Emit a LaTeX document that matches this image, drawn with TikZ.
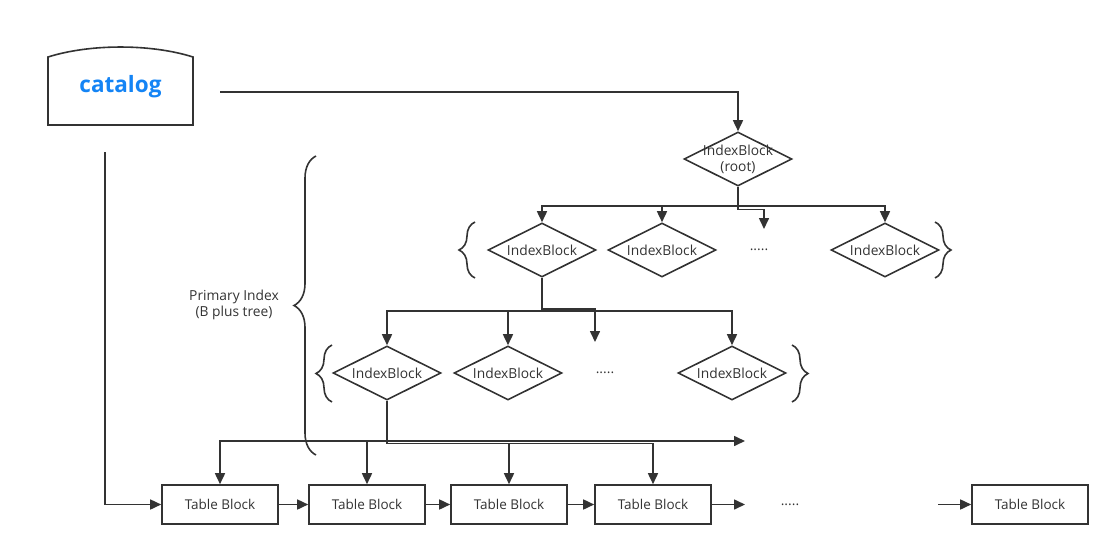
\documentclass[tikz,border=0pt]{standalone}
\usepackage{fontspec}
\setmainfont{Open Sans}
\usetikzlibrary{shapes.geometric,decorations.pathreplacing,arrows.meta}
\definecolor{ln}{RGB}{51,51,51}
\definecolor{cat}{RGB}{20,132,245}
\begin{document}
\begin{tikzpicture}[x=1pt,y=-1pt,
  line/.style={draw=ln, line width=1.6pt},
  arr/.style={line, -{Triangle[length=11pt,width=10pt]}},
  lbl/.style={font=\fontsize{13.8}{16}\selectfont, text=ln, align=center},
  ib/.style={diamond, draw=ln, line width=1.6pt, minimum width=108pt, minimum height=54pt, inner sep=0pt},
  tb/.style={rectangle, draw=ln, line width=1.6pt, minimum width=116pt, minimum height=39pt, inner sep=0pt, font=\fontsize{13.5}{16}\selectfont, text=ln},
  br/.style={line, decorate, decoration={brace, amplitude=#1}},
]
\path[use as bounding box] (0,0) rectangle (1119,557);

% catalog
\draw[ln, line width=1.6pt] (48,125) -- (48,57) .. controls (90,43.7) and (151,43.7) .. (193,57) -- (193,125) -- cycle;
\node[font=\bfseries\fontsize{22.5}{26}\selectfont, text=cat] (catalog) at (120.5,87) {catalog};
\coordinate (c1) at (220,92);
\coordinate (cd) at (105,152);

% root
\node[ib, label={[lbl]center:{IndexBlock\\(root)}}] (root) at (738,159) {};
\draw[arr] (c1) -| (root.north);

% level 1
\node[ib, label={[lbl]center:IndexBlock}] (a1) at (542,250) {};
\node[ib, label={[lbl]center:IndexBlock}] (a2) at (662,250) {};
\node[ib, label={[lbl]center:IndexBlock}] (a4) at (885,250) {};
\node[lbl] (adots) at (759,250) {.....};
\coordinate (rb) at (738,206);
\coordinate (adt) at (764,229);
\draw[line] (root.south) -- (rb);
\draw[arr] (rb) -| (a1.north);
\draw[arr] (rb) -| (a2.north);
\draw[arr] (rb) -| (a4.north);
\draw[arr] (root.south) -- ++(0,22.5) -| (adt);

% level 2
\node[ib, label={[lbl]center:IndexBlock}] (b1) at (387,373) {};
\node[ib, label={[lbl]center:IndexBlock}] (b2) at (508,373) {};
\node[ib, label={[lbl]center:IndexBlock}] (b4) at (732,373) {};
\node[lbl] (bdots) at (605,373) {.....};
\coordinate (ab) at (542,311);
\coordinate (bdt) at (595,342);
\draw[line] (a1.south) -- (ab);
\draw[arr] (ab) -| (b1.north);
\draw[arr] (ab) -| (b2.north);
\draw[arr] (ab) -| (b4.north);
\draw[arr] (a1.south) -- ++(0,31) -| (bdt);

% table blocks
\node[tb] (t1) at (220,504.5) {Table Block};
\node[tb] (t2) at (367,504.5) {Table Block};
\node[tb] (t3) at (509,504.5) {Table Block};
\node[tb] (t4) at (653,504.5) {Table Block};
\node[tb] (t5) at (1030,504.5) {Table Block};
\node[lbl] (tdots) at (790,504.5) {.....};
\coordinate (t4e) at (745,504.5);
\coordinate (t5w) at (938,504.5);
\draw[arr] (t1) -- (t2);
\draw[arr] (t2) -- (t3);
\draw[arr] (t3) -- (t4);
\draw[arr] (t4) -- (t4e);
\draw[arr] (t5w) -- (t5);
\draw[arr] (cd) |- (t1.west);

% leaf pointers
\coordinate (bb) at (387,441);
\coordinate (bend) at (745,441);
\draw[line] (b1.south) -- (bb);
\draw[arr] (bb) -| (t1.north);
\draw[arr] (bb) -| (t2.north);
\draw[arr] (bb) -- (bend);
\draw[arr] (b1.south) -- ++(0,42.5) -| (t3.north);
\draw[arr] (b1.south) -- ++(0,42.5) -| (t4.north);

% braces
\draw[br=22] (316,455) -- (316,156);
\node[lbl] (pi) at (234,305) {Primary Index\\(B plus tree)};
\draw[br=16] (475,278) -- (475,222);
\draw[br=16] (935,222) -- (935,278);
\draw[br=16] (332,402) -- (332,345);
\draw[br=16] (792,345) -- (792,402);
\end{tikzpicture}
\end{document}
